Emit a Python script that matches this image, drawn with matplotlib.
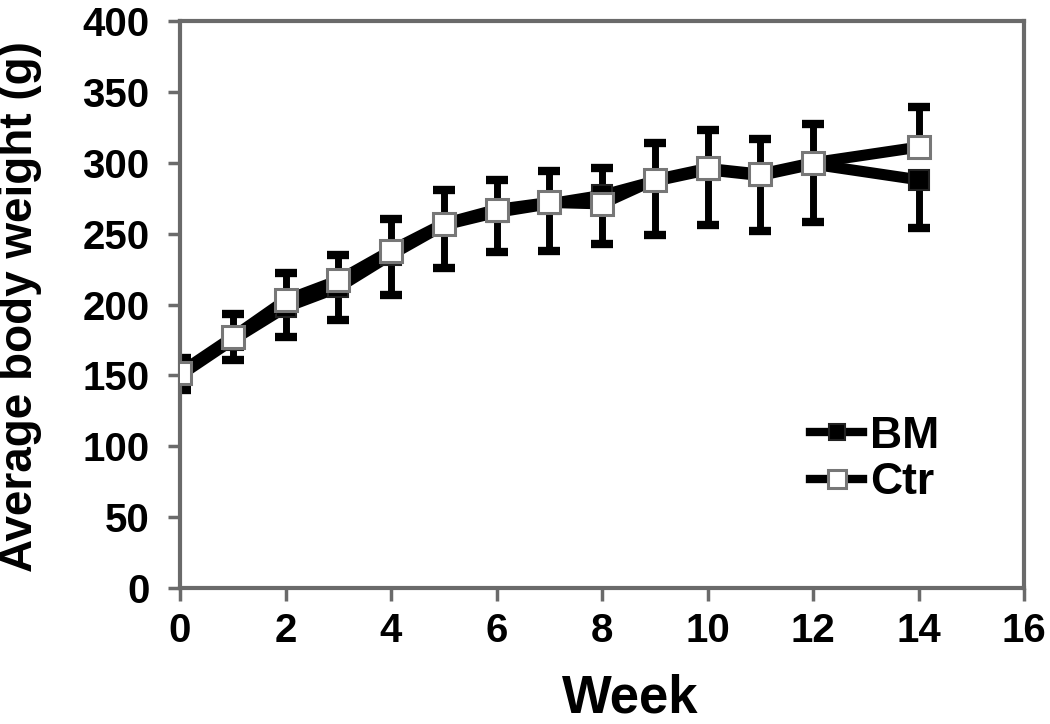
import matplotlib
matplotlib.use("Agg")
import matplotlib.pyplot as plt

weeks = [0, 1, 2, 3, 4, 5, 6, 7, 8, 9, 10, 11, 12, 14]
bm = [150, 175, 198, 212, 235, 256, 265, 271, 277, 287, 295, 291, 299, 288]
ctr = [152, 177, 203, 217, 238, 257, 267, 272, 271, 288, 296, 292, 300, 311]
bm_err_low = [10, 14, 21, 23, 28, 30, 28, 33, 34, 38, 39, 39, 41, 34]
ctr_err_up = [10, 16, 19, 18, 22, 24, 21, 22, 25, 26, 27, 25, 27, 28]
x_ticks = [0, 2, 4, 6, 8, 10, 12, 14, 16]
y_ticks = [0, 50, 100, 150, 200, 250, 300, 350, 400]

plt.rcParams['font.family'] = ['Liberation Sans', 'DejaVu Sans']
plt.rcParams['font.weight'] = 'bold'

fig = plt.figure(figsize=(10.5, 7.24), dpi=100)
ax = fig.add_axes([180/1050, 1-588/724, (1024-180)/1050, (588-21)/724])

zeros = [0]*len(weeks)
ax.errorbar(weeks, bm, yerr=[bm_err_low, zeros], fmt='none', ecolor='black',
            elinewidth=5, capsize=8, capthick=6, zorder=2)
ax.errorbar(weeks, ctr, yerr=[zeros, ctr_err_up], fmt='none', ecolor='black',
            elinewidth=5, capsize=8, capthick=6, zorder=2)
ax.plot(weeks, bm, color='black', lw=8, marker='s', ms=15, mfc='black',
        mec='#222222', mew=1.5, label='BM', zorder=3)
ax.plot(weeks, ctr, color='black', lw=8, marker='s', ms=16, mfc='white',
        mec='#777777', mew=2.2, label='Ctr', zorder=4)

ax.set_xlim(0, 16)
ax.set_ylim(0, 400)
ax.set_xticks(x_ticks)
ax.set_yticks(y_ticks)
ax.tick_params(axis='both', direction='out', length=9, width=2.5, color='#6a6a6a',
               labelsize=29)
ax.tick_params(axis='y', pad=13)
ax.tick_params(axis='x', pad=8)
for s in ax.spines.values():
    s.set_color('#6a6a6a')
    s.set_linewidth(3)

ax.set_xlabel('Week', fontsize=38, fontweight='bold')
ax.xaxis.set_label_coords(0.533, -0.15)
ax.set_ylabel('Average body weight (g)', fontsize=33, fontweight='bold')
ax.yaxis.set_label_coords(-0.163, 0.496)

leg = ax.legend(loc='upper left', bbox_to_anchor=((810-180)/844, (588-416)/567),
                frameon=False, fontsize=32, handlelength=1.2, handletextpad=0.15,
                labelspacing=0.12, borderaxespad=0, borderpad=0, markerscale=0.8)
for t in leg.get_texts():
    t.set_fontweight('bold')
for h in leg.get_lines():
    h.set_linewidth(6)

fig.savefig('out.png', dpi=100)
